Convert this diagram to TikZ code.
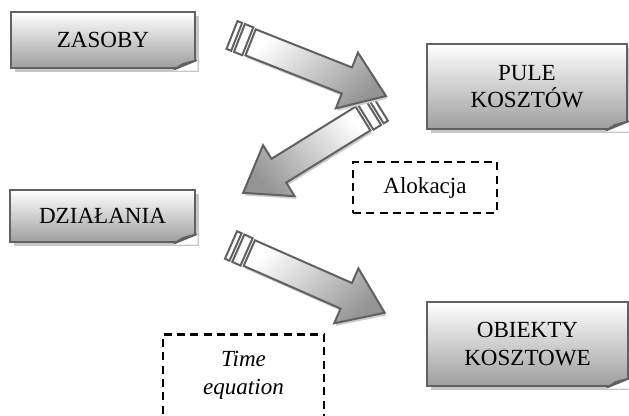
\documentclass[tikz,border=0pt]{standalone}
\usepackage{fontspec}
\setmainfont{Liberation Serif}
\usetikzlibrary{calc,shadows}

\newcommand\boxfont{\fontsize{17.3}{20.8}\selectfont}

\begin{document}
\begin{tikzpicture}[x=0.75pt,y=0.75pt,
  box/.style={draw=black!62,line width=2pt,top color=white,bottom color=black!38,
    align=center,font=\boxfont,inner sep=2pt,
    drop shadow={shadow xshift=3pt,shadow yshift=-3pt,fill=black!22,opacity=1}},
  dashbox/.style={draw=black,line width=2.2pt,dash pattern=on 6pt off 4pt,
    align=center,font=\boxfont},
  arrline/.style={draw=black!62,line width=1.5pt},
  foldline/.style={draw=black!62,line width=1.4pt,line join=round},
  pics/bigarr/.style 2 args={code={
    \draw[arrline,top color=white,bottom color=black!42,shading angle=#2,
      drop shadow={shadow xshift=1pt,shadow yshift=-2pt,fill=black!20,opacity=1}]
      (20,14) -- ({#1-42},14) -- ({#1-42},30) -- (#1,0) -- ({#1-42},-30)
      -- ({#1-42},-14) -- (20,-14) -- cycle;
    \draw[arrline,fill=white] (0,-15) rectangle (5,15);
    \draw[arrline,fill=white] (8,-15) rectangle (17,15);
  }}
]
\useasboundingbox (0,0) rectangle (629,416);

% boxes
\node[box,minimum width=138pt,minimum height=42pt] (zas) at (103,376) {ZASOBY};
\node[box,minimum width=150pt,minimum height=63.75pt] (pule) at (527,329.5) {PULE\\KOSZTÓW};
\node[box,minimum width=138.75pt,minimum height=39pt] (dzial) at (102.5,200) {DZIAŁANIA};
\node[box,minimum width=150.75pt,minimum height=63pt] (obj) at (527.5,72) {OBIEKTY\\KOSZTOWE};

% folded corners
\foreach \b in {zas,pule,dzial,obj}{
  \fill[white] ([xshift=-17pt,yshift=-1pt]\b.south east) -- ([xshift=1pt,yshift=7.5pt]\b.south east)
    -- ([xshift=1pt,yshift=-1pt]\b.south east) -- cycle;
  \draw[foldline,fill=black!12] ([xshift=-16.5pt]\b.south east) -- ([yshift=6.75pt]\b.south east)
    -- ([xshift=-10pt,yshift=4pt]\b.south east) -- cycle;
}

% dashed notes
\node[dashbox,minimum width=108pt,minimum height=38.25pt] (alok) at (425,228.5) {Alokacja};
\node[dashbox,minimum width=120.75pt,minimum height=75pt,anchor=north] (time) at (243.5,83) {};
\node[font=\boxfont\itshape,align=center] (timetxt) at (243.5,41) {Time\\equation};

% block arrows
\coordinate (a1s) at (232,381); \coordinate (a1e) at (386,320);
\coordinate (a2s) at (380,308); \coordinate (a2e) at (243,223);
\coordinate (a3s) at (231,171); \coordinate (a3e) at (385,103);
\pic[rotate=211.8] at (a2s) {bigarr={161}{-50}};
\pic[rotate=-21.6] at (a1s) {bigarr={165.6}{45}};
\pic[rotate=-23.8] at (a3s) {bigarr={168}{45}};
\end{tikzpicture}
\end{document}
